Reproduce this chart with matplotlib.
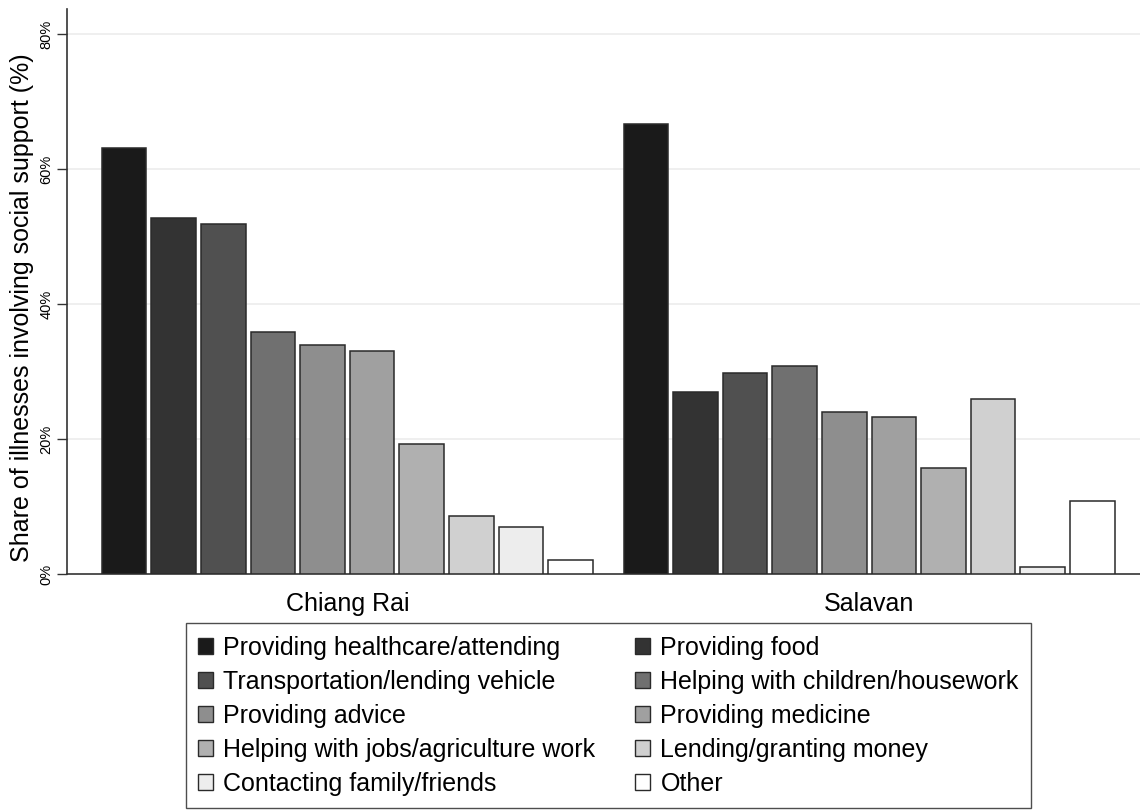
import matplotlib
matplotlib.use("Agg")
import matplotlib.pyplot as plt
from matplotlib.patches import Patch
import numpy as np

plt.rcParams['font.family'] = ['Liberation Sans', 'DejaVu Sans']

categories = ["Providing healthcare/attending", "Providing food",
              "Transportation/lending vehicle", "Helping with children/housework",
              "Providing advice", "Providing medicine",
              "Helping with jobs/agriculture work", "Lending/granting money",
              "Contacting family/friends", "Other"]
groups = ["Chiang Rai", "Salavan"]
chiang_rai = [63.1, 52.7, 51.9, 35.9, 34.0, 33.1, 19.3, 8.6, 6.9, 2.1]
salavan = [66.6, 26.9, 29.8, 30.8, 24.0, 23.3, 15.7, 25.9, 1.1, 10.8]
colors = ["#1a1a1a", "#333333", "#505050", "#707070", "#8e8e8e",
          "#a0a0a0", "#b0b0b0", "#d0d0d0", "#ededed", "#ffffff"]
yticks = [0, 20, 40, 60, 80]
ytick_labels = ["0%", "20%", "40%", "60%", "80%"]

fig = plt.figure(figsize=(11.4, 8.11), dpi=100)
ax = fig.add_axes([0.0588, 0.2922, 0.9412, 0.6963])

group_offsets = [0.0, 10.52]
width = 0.9
for g, vals in zip(group_offsets, [chiang_rai, salavan]):
    x = g + np.arange(len(vals))
    ax.bar(x, vals, width=width, color=colors, edgecolor="#2a2a2a",
           linewidth=1.1, zorder=3)

ax.set_xlim(-1.15, 20.48)
ax.set_ylim(0, 83.66)
ax.set_yticks(yticks)
ax.set_yticklabels(ytick_labels, rotation=90, va="center", fontsize=10.5)
ax.set_xticks([g + 4.5 for g in group_offsets])
ax.set_xticklabels(groups, fontsize=18)
ax.tick_params(axis="x", length=0, pad=13)
ax.tick_params(axis="y", length=7, width=1, color="#333333", pad=3)
for t in yticks[1:]:
    ax.axhline(t, color="#eeeeee", linewidth=1.3, zorder=1)
for s in ["top", "right"]:
    ax.spines[s].set_visible(False)
for s in ["left", "bottom"]:
    ax.spines[s].set_color("#333333")
    ax.spines[s].set_linewidth(1.2)
ax.set_ylabel("Share of illnesses involving social support (%)", fontsize=18)
ax.yaxis.set_label_coords(-0.031, 0.472)

# legend filled row-major (matplotlib fills column-major)
order = [0, 2, 4, 6, 8, 1, 3, 5, 7, 9]
handles = [Patch(facecolor=colors[i], edgecolor="#2a2a2a", linewidth=1.0) for i in order]
labels = [categories[i] for i in order]
leg = fig.legend(handles, labels, ncol=2, loc="upper center",
                 bbox_to_anchor=(0.5338, 0.2318), fontsize=18, frameon=True,
                 fancybox=False, edgecolor="#222222", handlelength=0.6,
                 handleheight=0.6, handletextpad=0.4, columnspacing=1.6,
                 labelspacing=0.4, borderpad=0.5, borderaxespad=0)
leg.get_frame().set_linewidth(1.0)

fig.savefig("out.png", dpi=100, facecolor="white")
